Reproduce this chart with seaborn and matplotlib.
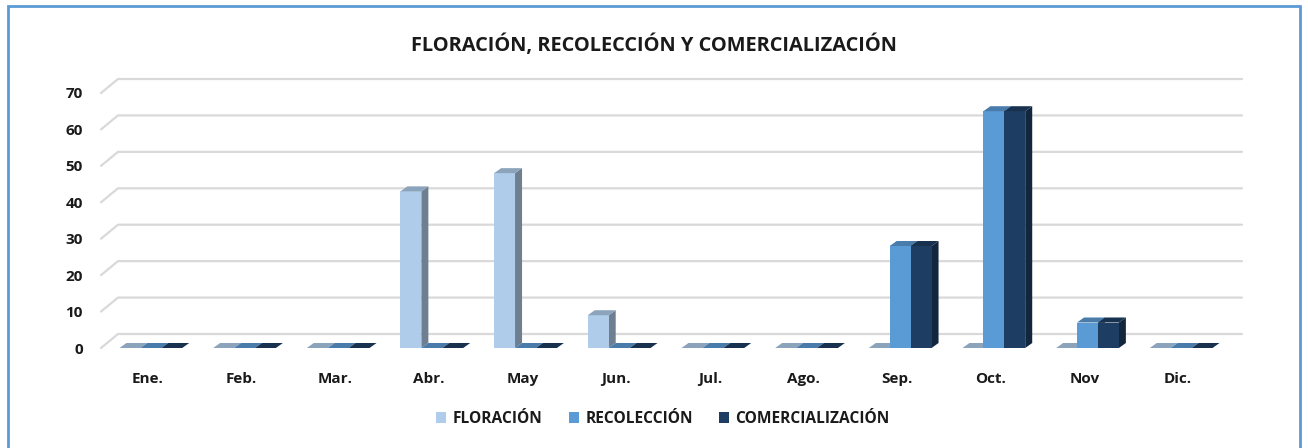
import pandas as pd
import seaborn as sns
import matplotlib.pyplot as plt
import matplotlib.transforms as mtransforms
from matplotlib.patches import Polygon, Rectangle, Patch
from matplotlib.colors import to_rgb

# Data
meses = ["Ene.", "Feb.", "Mar.", "Abr.", "May", "Jun.", "Jul.", "Ago.", "Sep.", "Oct.", "Nov", "Dic."]
floracion = [0, 0, 0, 43, 48, 9, 0, 0, 0, 0, 0, 0]
recoleccion = [0, 0, 0, 0, 0, 0, 0, 0, 28, 65, 7, 0]
comercializacion = [0, 0, 0, 0, 0, 0, 0, 0, 28, 65, 7, 0]
series = ["FLORACIÓN", "RECOLECCIÓN", "COMERCIALIZACIÓN"]
colores = ["#AFCDEA", "#5B9BD5", "#1D3D63"]

df = pd.DataFrame({
    "Mes": meses * 3,
    "Valor": floracion + recoleccion + comercializacion,
    "Serie": [series[0]] * 12 + [series[1]] * 12 + [series[2]] * 12,
})

sns.set_theme(style="white")
plt.rcParams['font.family'] = ['Open Sans', 'DejaVu Sans']

fig = plt.figure(figsize=(13.08, 4.48), dpi=100)
ax = fig.add_axes([101 / 1308, 100 / 448, 1124 / 1308, 255 / 448])

sns.barplot(data=df, x="Mes", y="Valor", hue="Serie", palette=colores,
            saturation=1, width=0.67, ax=ax, legend=False, zorder=3)

ax.set_ylim(0, 70)
ax.set_xlim(-0.5, 11.5)
ax.set_yticks(range(0, 80, 10))
ax.set_xlabel("")
ax.set_ylabel("")
for s in ax.spines.values():
    s.set_visible(False)
ax.tick_params(axis="both", length=0, labelsize=11)
ax.tick_params(axis="y", pad=13)
ax.tick_params(axis="x", pad=17)
for lbl in ax.get_xticklabels() + ax.get_yticklabels():
    lbl.set_fontweight("bold")
    lbl.set_color("#1a1a1a")

fig.suptitle("FLORACIÓN, RECOLECCIÓN Y COMERCIALIZACIÓN", y=1 - 45 / 448,
             va="center", fontsize=14.4, fontweight="bold", color="#1a1a1a")

ident = mtransforms.IdentityTransform()

# back-wall gridlines (3D look)
wall_dx, wall_dy = 17, 14
for v in range(0, 80, 10):
    x0, y0 = ax.transData.transform((-0.5, v))
    x1, _ = ax.transData.transform((11.5, v))
    ax.add_line(plt.Line2D([x0, x0 + wall_dx, x1 + wall_dx], [y0, y0 + wall_dy, y0 + wall_dy],
                           transform=ident, color="#D9D9D9", lw=1.6, zorder=1, clip_on=False))


def shade(c, f):
    r, g, b = to_rgb(c)
    return (r * f, g * f, b * f)


# depth faces for every bar, shifted a few pixels right as in the 3D view
shift = mtransforms.ScaledTranslation(3 / 100, 0, fig.dpi_scale_trans)
dx, dy = 7, 5
bars = sorted(ax.patches, key=lambda p: p.get_x())
for i, p in enumerate(bars):
    (xa, ya), (xb, yb) = ax.transData.transform([(p.get_x(), 0), (p.get_x() + p.get_width(), p.get_height())])
    xa += 3
    xb += 3
    col = p.get_facecolor()
    z = 4 + i * 0.01
    p.set_transform(ax.transData + shift)
    p.set_zorder(z + 0.005)
    p.set_edgecolor("none")
    side = Polygon([(xb, ya), (xb, yb), (xb + dx, yb + dy), (xb + dx, ya + dy)], closed=True,
                   transform=ident, facecolor=shade(col, 0.62), edgecolor="none", zorder=z, clip_on=False)
    top = Polygon([(xa, yb), (xb, yb), (xb + dx, yb + dy), (xa + dx, yb + dy)], closed=True,
                  transform=ident, facecolor=shade(col, 0.8), edgecolor="none", zorder=z + 0.008, clip_on=False)
    ax.add_patch(side)
    ax.add_patch(top)

# legend
handles = [Patch(facecolor=c, edgecolor="none") for c in colores]
leg = fig.legend(handles, series, loc="center", bbox_to_anchor=(663 / 1308, 1 - 419 / 448),
                 ncol=3, frameon=False, handlelength=0.65, handleheight=0.65,
                 columnspacing=1.7, handletextpad=0.4, fontsize=11.2)
for t in leg.get_texts():
    t.set_fontweight("bold")
    t.set_color("#1a1a1a")

# chart border
fig.add_artist(Rectangle((8 / 1308, -0.02), 1292 / 1308, 1 - 6 / 448 + 0.02,
                         transform=fig.transFigure, fill=False, edgecolor="#5B9BD5", lw=2))

fig.savefig("out.png", dpi=100)
